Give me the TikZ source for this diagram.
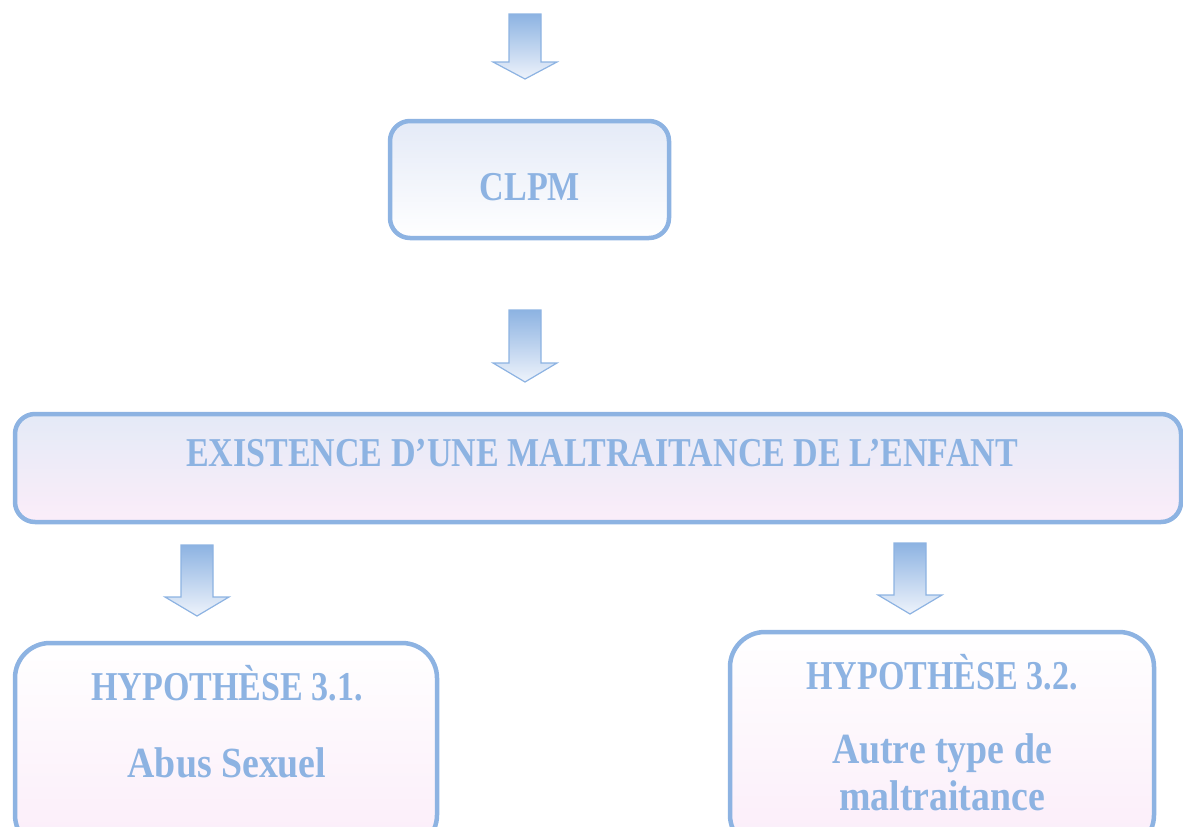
\documentclass[tikz,border=0pt]{standalone}
\usepackage{fontspec}
\setmainfont{Liberation Serif}[FakeStretch=0.83]
\newfontfamily\lowfont{Liberation Serif}[FakeStretch=0.88]
\definecolor{bl}{HTML}{8DB3E2}
\definecolor{lb}{HTML}{E4EAF7}
\definecolor{pk}{HTML}{FBEDF9}
\definecolor{aw}{HTML}{EEF3FB}
\tikzset{
  box/.style={draw=bl, line width=4.5pt, inner sep=0pt},
  lbl/.style={text=bl, anchor=base, inner sep=0pt, font=\bfseries\fontsize{41}{46}\selectfont},
  lblsmall/.style={lbl, font=\lowfont\bfseries\fontsize{43}{48}\selectfont},
  barrow/.style={draw=bl, line width=1.2pt, top color=bl, bottom color=aw, line join=miter}
}
\newcommand{\blockarrow}[4]{%
  \path[barrow] (#1-16,#2) -- (#1+16,#2) -- (#1+16,#3) -- (#1+32,#3) -- (#1,#4) -- (#1-32,#3) -- (#1-16,#3) -- cycle;}
\begin{document}
\begin{tikzpicture}[x=1pt,y=-1pt]
\useasboundingbox (0,0) rectangle (1183,827);
\clip (0,0) rectangle (1183,827);
% arrows
\blockarrow{525}{14}{62}{79}
\blockarrow{525}{310}{363}{382}
\blockarrow{197}{545}{597}{616}
\blockarrow{910}{543}{595}{614}
% boxes
\node[box, rounded corners=20pt, top color=lb, bottom color=white, minimum width=279pt, minimum height=117pt] (clpm) at (529.5,179.5) {};
\node[box, rounded corners=20pt, top color=lb, bottom color=pk, minimum width=1166pt, minimum height=108pt] (exist) at (598,468) {};
\node[box, rounded corners=35pt, top color=white, bottom color=pk, minimum width=422pt, minimum height=207pt] (hypa) at (226,746.5) {};
\node[box, rounded corners=35pt, top color=white, bottom color=pk, minimum width=424pt, minimum height=218pt] (hypb) at (942,741) {};
% texts
\node[lbl] (tclpm) at (530,200) {CLPM};
\node[lbl] (texist) at (602,466) {EXISTENCE D’UNE MALTRAITANCE DE L’ENFANT};
\node[lbl] (thypa) at (227,700) {HYPOTHÈSE 3.1.};
\node[lblsmall] (tabus) at (227,777) {Abus Sexuel};
\node[lbl] (thypb) at (942,689) {HYPOTHÈSE 3.2.};
\node[lblsmall] (tautre) at (942,763) {Autre type de};
\node[lblsmall] (tmalt) at (942,810) {maltraitance};
\end{tikzpicture}
\end{document}
